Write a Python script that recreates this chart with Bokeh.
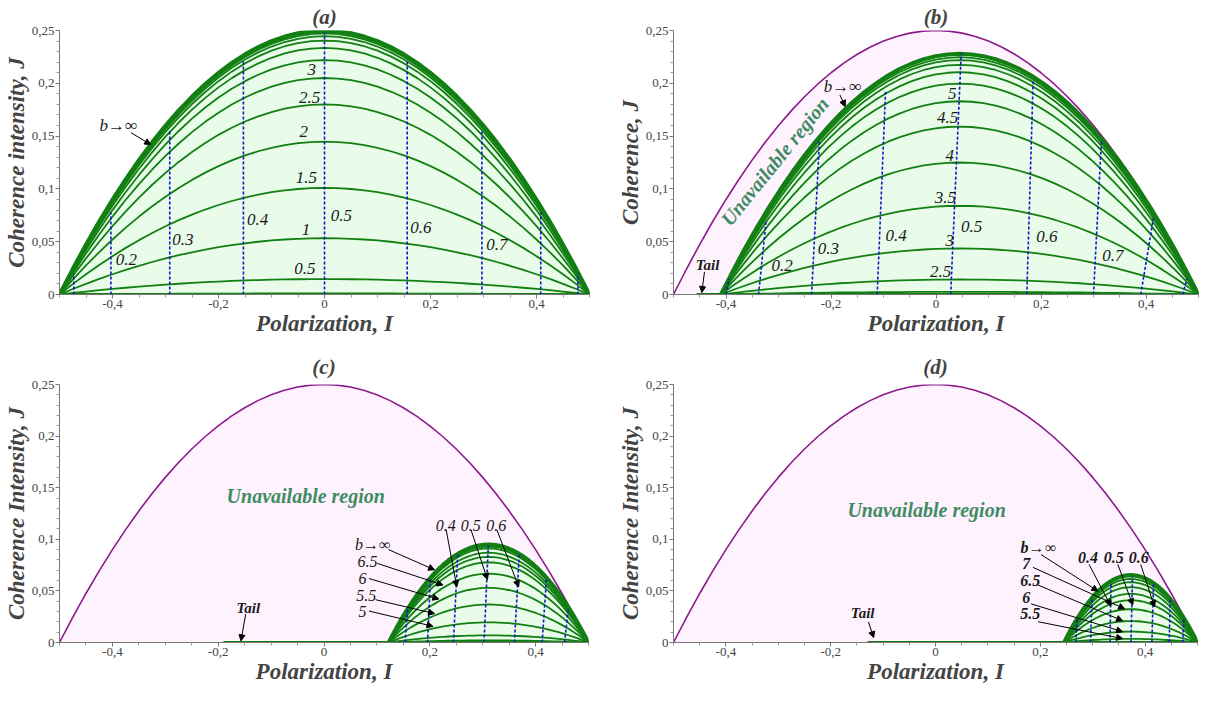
from bokeh.plotting import figure
from bokeh.layouts import row, column
from bokeh.models import (FixedTicker, CustomJSTickFormatter, Arrow, NormalHead,
                          ColumnDataSource, Range1d)
from bokeh.core.properties import value
from bokeh.embed import file_html
from bokeh.resources import INLINE

# ---------------- data ----------------
# sampling positions along each curve family's domain (0 = left end, 1 = right end)
T = [0.0, 0.025, 0.05, 0.075, 0.1, 0.125, 0.15, 0.175, 0.2, 0.225, 0.25, 0.275, 0.3, 0.325,
     0.35, 0.375, 0.4, 0.425, 0.45, 0.475, 0.5, 0.525, 0.55, 0.575, 0.6, 0.625, 0.65, 0.675,
     0.7, 0.725, 0.75, 0.775, 0.8, 0.825, 0.85, 0.875, 0.9, 0.925, 0.95, 0.975, 1.0]
# normalised arch profile of the curves (peak = 1)
SHAPE = [0.0, 0.0975, 0.19, 0.2775, 0.36, 0.4375, 0.51, 0.5775, 0.64, 0.6975, 0.75, 0.7975,
         0.84, 0.8775, 0.91, 0.9375, 0.96, 0.9775, 0.99, 0.9975, 1.0, 0.9975, 0.99, 0.9775,
         0.96, 0.9375, 0.91, 0.8775, 0.84, 0.7975, 0.75, 0.6975, 0.64, 0.5775, 0.51, 0.4375,
         0.36, 0.2775, 0.19, 0.0975, 0.0]
BOUNDARY_PEAK = 0.25      # purple limit curve J = 1/4 - I^2
BOUNDARY_X0 = -0.5

# panel (a)
A_X0 = -0.5
A_PEAKS = [0.0, 0.001, 0.0146, 0.0533, 0.1009, 0.1447, 0.180, 0.205, 0.222, 0.2335,
           0.2405, 0.2446, 0.2472, 0.2487, 0.2497, 0.25]
A_DASH_BX = [-0.473, -0.403, -0.292, -0.153, 0.0, 0.156, 0.297, 0.408, 0.478]
A_DASH_TX = [-0.473, -0.403, -0.292, -0.153, 0.0, 0.156, 0.297, 0.408, 0.478]
A_DASH_TY = [0.02, 0.078, 0.156, 0.221, 0.248, 0.221, 0.156, 0.078, 0.02]
A_LAB = ["3", "2.5", "2", "1.5", "1", "0.5", "0.2", "0.3", "0.4", "0.5", "0.6", "0.7", "b→∞"]
A_LAB_X = [-0.024, -0.028, -0.039, -0.034, -0.035, -0.037, -0.374, -0.267, -0.126, 0.032,
           0.182, 0.325, -0.389]
A_LAB_Y = [0.2129, 0.1866, 0.154, 0.111, 0.062, 0.0247, 0.0327, 0.052, 0.071, 0.075,
           0.0635, 0.047, 0.1596]
A_ARR = dict(x0=[-0.365], y0=[0.1532], x1=[-0.328], y1=[0.142])

# panel (b)
B_X0 = -0.41
B_PEAKS = [0.0, 0.0005, 0.0025, 0.0142, 0.0436, 0.084, 0.125, 0.159, 0.183, 0.1997,
           0.2105, 0.2175, 0.222, 0.2247, 0.227, 0.228]
B_DASH_BX = [-0.400, -0.338, -0.237, -0.112, 0.028, 0.173, 0.300, 0.390, 0.470]
B_DASH_TX = [-0.394, -0.3235, -0.222, -0.096, 0.048, 0.185, 0.315, 0.414, 0.478]
B_DASH_TY = [0.015, 0.0705, 0.1447, 0.1937, 0.2285, 0.203, 0.145, 0.072, 0.015]
B_LAB = ["5", "4.5", "4", "3.5", "3", "2.5", "0.2", "0.3", "0.4", "0.5", "0.6", "0.7", "b→∞"]
B_LAB_X = [0.031, 0.022, 0.026, 0.018, 0.026, 0.009, -0.293, -0.205, -0.076, 0.068,
           0.211, 0.337, -0.178]
B_LAB_Y = [0.19, 0.1675, 0.132, 0.092, 0.0515, 0.0221, 0.0278, 0.0436, 0.0563, 0.0642,
           0.0547, 0.0373, 0.197]
B_ARR = dict(x0=[-0.183], y0=[0.189], x1=[-0.173], y1=[0.178])
B_TAIL = [-0.456, -0.41]
B_TAIL_LAB = (-0.435, 0.0277)
B_TAIL_ARR = dict(x0=[-0.441], y0=[0.0214], x1=[-0.446], y1=[0.0019])
B_UNAV = (-0.307, 0.126, 0.89)

# panel (c)
C_X0 = 0.122
C_PEAKS = [0.0, 0.0005, 0.002, 0.0069, 0.0195, 0.0368, 0.053, 0.0667, 0.0777, 0.083,
           0.087, 0.0912, 0.093, 0.095]
C_DASH_BX = [0.1534, 0.1957, 0.2447, 0.3025, 0.360, 0.4124, 0.4547]
C_DASH_TX = [0.1578, 0.2012, 0.2528, 0.3106, 0.369, 0.4205, 0.462]
C_DASH_TY = [0.032, 0.062, 0.085, 0.094, 0.085, 0.062, 0.033]
C_LAB = ["b→∞", "6.5", "6", "5.5", "5", "0.4", "0.5", "0.6"]
C_LAB_X = [0.092, 0.082, 0.0727, 0.080, 0.0727, 0.230, 0.2776, 0.3255]
C_LAB_Y = [0.095, 0.0786, 0.062, 0.0453, 0.0296, 0.1138, 0.1138, 0.1138]
C_ARR = dict(x0=[0.122, 0.1006, 0.085, 0.0975, 0.085, 0.231, 0.278, 0.327],
             y0=[0.090, 0.0767, 0.062, 0.0415, 0.0305, 0.109, 0.109, 0.109],
             x1=[0.209, 0.2248, 0.217, 0.209, 0.206, 0.251, 0.309, 0.368],
             y1=[0.0704, 0.0557, 0.0421, 0.028, 0.0157, 0.054, 0.061, 0.054])
C_TAIL = [-0.19, 0.122]
C_TAIL_LAB = (-0.143, 0.0338)
C_TAIL_ARR = dict(x0=[-0.148], y0=[0.0275], x1=[-0.157], y1=[0.0016])
C_UNAV = (-0.0345, 0.1415, 0.0)

# panel (d)
D_X0 = 0.245
D_PEAKS = [0.0, 0.0003, 0.0035, 0.0105, 0.0208, 0.0323, 0.0409, 0.0472, 0.0536, 0.0584,
           0.0616, 0.064, 0.0654]
D_DASH_BX = [0.268, 0.296, 0.333, 0.373, 0.413, 0.446, 0.472]
D_DASH_TX = [0.270, 0.2985, 0.335, 0.376, 0.416, 0.448, 0.474]
D_DASH_TY = [0.0226, 0.0425, 0.0585, 0.064, 0.0566, 0.0416, 0.0234]
D_LAB = ["b→∞", "7", "6.5", "6", "5.5", "0.4", "0.5", "0.6"]
D_LAB_X = [0.196, 0.173, 0.181, 0.173, 0.181, 0.291, 0.340, 0.388]
D_LAB_Y = [0.092, 0.0766, 0.0603, 0.044, 0.0278, 0.0824, 0.0824, 0.0824]
D_ARR = dict(x0=[0.2015, 0.186, 0.196, 0.1825, 0.196, 0.293, 0.348, 0.3916],
             y0=[0.0852, 0.0728, 0.0556, 0.0374, 0.0201, 0.0757, 0.0757, 0.0757],
             x1=[0.310, 0.361, 0.357, 0.357, 0.357, 0.3346, 0.3764, 0.418],
             y1=[0.0498, 0.0326, 0.0211, 0.0105, 0.0038, 0.0354, 0.0364, 0.0345])
D_TAIL = [-0.13, 0.245]
D_TAIL_LAB = (-0.139, 0.0288)
D_TAIL_ARR = dict(x0=[-0.128], y0=[0.02], x1=[-0.118], y1=[0.0047])
D_UNAV = (-0.017, 0.128, 0.0)

X_TICKS = [-0.4, -0.2, 0, 0.2, 0.4]
X_MINOR = [-0.5, -0.45, -0.35, -0.3, -0.25, -0.15, -0.1, -0.05, 0.05, 0.1, 0.15, 0.25,
           0.3, 0.35, 0.45, 0.5]
Y_TICKS = [0, 0.05, 0.1, 0.15, 0.2, 0.25]
Y_MINOR = [0.01, 0.02, 0.03, 0.04, 0.06, 0.07, 0.08, 0.09, 0.11, 0.12, 0.13, 0.14, 0.16,
           0.17, 0.18, 0.19, 0.21, 0.22, 0.23, 0.24]

# ---------------- styling ----------------
FONT = "Liberation Serif"
GREEN = "#127f12"
FILL_G = "#e9fce9"
PURPLE = "#8c1a8c"
FILL_P = "#fdf2fd"
BLUE = "#1515c8"
TXT_G = "#3f8c63"

COMMA = CustomJSTickFormatter(code="""
    const v = Math.round(tick * 100) / 100;
    return v.toString().replace('.', ',');
""")


def family(x0):
    return [x0 + t * (0.5 - x0) for t in T]


def make_fig(title, ylabel, width, height, bl, br, bt, bb, tstand):
    p = figure(width=width, height=height, x_range=Range1d(-0.5, 0.5),
               y_range=Range1d(0, 0.25), output_backend="svg", toolbar_location=None,
               min_border_left=bl, min_border_right=br, min_border_top=bt,
               min_border_bottom=bb, title=title)
    p.title.align = "center"
    p.title.text_font = FONT
    p.title.text_font_size = "21px"
    p.title.text_font_style = "bold italic"
    p.title.standoff = tstand
    p.title.text_line_height = 0.9
    p.xgrid.visible = False
    p.ygrid.visible = False
    p.outline_line_color = None
    p.background_fill_color = "white"
    for ax, ticks, minor, lab in ((p.xaxis[0], X_TICKS, X_MINOR, "Polarization, I"),
                                  (p.yaxis[0], Y_TICKS, Y_MINOR, ylabel)):
        ax.ticker = FixedTicker(ticks=ticks, minor_ticks=minor)
        ax.formatter = COMMA
        ax.axis_label = lab
        ax.axis_label_text_font = FONT
        ax.axis_label_text_font_style = "bold italic"
        ax.axis_label_text_font_size = "23px"
        ax.axis_label_text_line_height = 0.8
        ax.axis_label_standoff = 0
        ax.major_label_text_font = FONT
        ax.major_label_text_font_size = "13px"
        ax.major_label_text_line_height = 0.8
        ax.major_label_standoff = 1
        ax.axis_line_color = "#777777"
        ax.major_tick_line_color = "#777777"
        ax.minor_tick_line_color = "#999999"
        ax.major_tick_out = 4
        ax.major_tick_in = 0
        ax.minor_tick_out = 3
        ax.minor_tick_in = 0
    return p


def draw_family(p, x0, peaks, boundary):
    xs_fam = family(x0)
    if boundary:
        bx = family(BOUNDARY_X0)
        by = [BOUNDARY_PEAK * s for s in SHAPE]
        p.varea(x=bx, y1=[0] * len(bx), y2=by, fill_color=FILL_P)
        p.line(bx, by, line_color=PURPLE, line_width=1.6)
    env = [peaks[-1] * s for s in SHAPE]
    p.varea(x=xs_fam, y1=[0] * len(xs_fam), y2=env, fill_color=FILL_G)
    xs = [xs_fam for _ in peaks[:-1]]
    ys = [[pk * s for s in SHAPE] for pk in peaks[:-1]]
    p.multi_line(xs, ys, line_color=GREEN, line_width=1.8)
    p.line(xs_fam, env, line_color=GREEN, line_width=3.8)
    p.line([x0, 0.5], [0, 0], line_color=GREEN, line_width=3)


def draw_dashes(p, bx, tx, ty):
    p.segment(x0=bx, y0=[0] * len(bx), x1=tx, y1=ty, line_color=BLUE, line_width=1.6,
              line_dash="3 2")


def draw_labels(p, texts, xs, ys, style, size):
    p.text(x=xs, y=ys, text=texts, text_font=value(FONT), text_font_style=style,
           text_font_size=size, text_align="center", text_baseline="middle",
           text_color="#1a1a1a")


def draw_arrows(p, arr, color="black", width=1.0):
    src = ColumnDataSource(data=arr)
    p.add_layout(Arrow(end=NormalHead(size=6, fill_color=color, line_color=color),
                       x_start="x0", y_start="y0", x_end="x1", y_end="y1", source=src,
                       line_color=color, line_width=width))


def draw_tail(p, tail, lab, arr):
    p.line(tail, [0, 0], line_color=GREEN, line_width=3)
    p.text(x=[lab[0]], y=[lab[1]], text=["Tail"], text_font=value(FONT),
           text_font_style="bold italic", text_font_size="15px", text_align="center",
           text_baseline="middle", text_color="#1a1a1a")
    draw_arrows(p, arr)


def draw_unav(p, u, size):
    p.text(x=[u[0]], y=[u[1]], text=["Unavailable region"], angle=u[2],
           text_font=value(FONT), text_font_style="bold italic", text_font_size=size,
           text_align="center", text_baseline="middle", text_color=TXT_G)


# (a)
pa = make_fig("(a)", "Coherence intensity, J", 614, 338, 55, 25, 25, 44, 4)
draw_family(pa, A_X0, A_PEAKS, False)
draw_dashes(pa, A_DASH_BX, A_DASH_TX, A_DASH_TY)
draw_labels(pa, A_LAB, A_LAB_X, A_LAB_Y, "italic", "17px")
draw_arrows(pa, A_ARR)

# (b)
pb = make_fig("(b)", "Coherence, J", 587, 338, 55, 3, 25, 44, 4)
draw_family(pb, B_X0, B_PEAKS, True)
draw_dashes(pb, B_DASH_BX, B_DASH_TX, B_DASH_TY)
draw_labels(pb, B_LAB, B_LAB_X, B_LAB_Y, "italic", "17px")
draw_arrows(pb, B_ARR)
draw_tail(pb, B_TAIL, B_TAIL_LAB, B_TAIL_ARR)
draw_unav(pb, B_UNAV, "20px")

# (c)
pc = make_fig("(c)", "Coherence Intensity, J", 614, 348, 56, 26, 46, 40, 12)
draw_family(pc, C_X0, C_PEAKS, True)
draw_dashes(pc, C_DASH_BX, C_DASH_TX, C_DASH_TY)
draw_labels(pc, C_LAB, C_LAB_X, C_LAB_Y, "italic", "16px")
draw_arrows(pc, C_ARR)
draw_tail(pc, C_TAIL, C_TAIL_LAB, C_TAIL_ARR)
draw_unav(pc, C_UNAV, "20px")

# (d)
pd = make_fig("(d)", "Coherence Intensity, J", 587, 348, 57, 4, 46, 40, 12)
draw_family(pd, D_X0, D_PEAKS, True)
draw_dashes(pd, D_DASH_BX, D_DASH_TX, D_DASH_TY)
draw_labels(pd, D_LAB, D_LAB_X, D_LAB_Y, "bold italic", "16px")
draw_arrows(pd, D_ARR)
draw_tail(pd, D_TAIL, D_TAIL_LAB, D_TAIL_ARR)
draw_unav(pd, D_UNAV, "20px")

layout = column(row(pa, pb), row(pc, pd))
open("out.html", "w").write(file_html(layout, INLINE))
